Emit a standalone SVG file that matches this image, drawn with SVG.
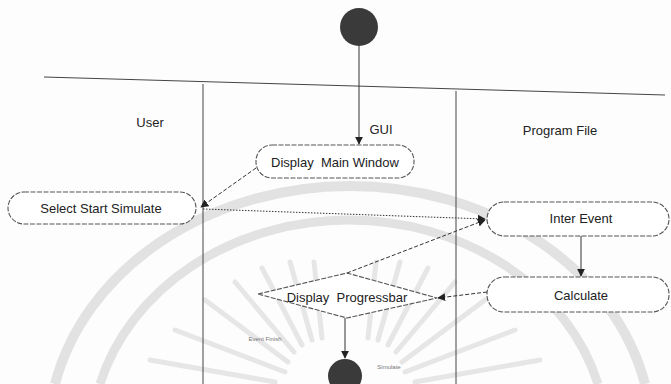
<svg xmlns="http://www.w3.org/2000/svg" width="671" height="384" viewBox="0 0 671 384">
<defs>
<marker id="ah" viewBox="0 0 10 10" refX="9" refY="5" markerWidth="8" markerHeight="8" orient="auto-start-reverse" markerUnits="userSpaceOnUse">
<path d="M0,0 L10,5 L0,10 z" fill="#222"/>
</marker>
<style>
.wm{fill:none;stroke:#e2e2e2;}
.lane{stroke:#444;stroke-width:1;fill:none;}
.box{fill:#fff;stroke:#555;stroke-width:1.1;stroke-dasharray:5 1.5;}
.t{font-family:"Liberation Sans",Arial,sans-serif;font-size:13px;fill:#222;text-anchor:middle;}
.s{font-family:"Liberation Sans",Arial,sans-serif;font-size:6px;fill:#777;text-anchor:middle;}
.c{stroke:#333;stroke-width:1;fill:none;}
.dash{stroke-dasharray:4 2;}
.dot{stroke-dasharray:1.5 1.5;}
</style>
</defs>
<rect width="671" height="384" fill="#fdfdfd"/>
<g id="watermark">
<path class="wm" stroke-width="10" d="M55,384 A302,252 0 0 1 645,384"/>
<path class="wm" stroke-width="9" d="M100,384 A258,222 0 0 1 598,384"/>
<g stroke="#e6e6e6" stroke-width="5" stroke-linecap="round">
<line x1="285" y1="372" x2="175" y2="330"/>
<line x1="288" y1="362" x2="205" y2="300"/>
<line x1="294" y1="352" x2="235" y2="282"/>
<line x1="302" y1="345" x2="262" y2="268"/>
<line x1="312" y1="340" x2="290" y2="262"/>
<line x1="322" y1="338" x2="314" y2="262"/>
<line x1="368" y1="338" x2="376" y2="262"/>
<line x1="378" y1="340" x2="400" y2="262"/>
<line x1="388" y1="345" x2="428" y2="268"/>
<line x1="396" y1="352" x2="455" y2="282"/>
<line x1="402" y1="362" x2="485" y2="300"/>
<line x1="405" y1="372" x2="515" y2="330"/>
<line x1="275" y1="382" x2="150" y2="360"/>
<line x1="415" y1="382" x2="540" y2="360"/>
</g>
</g>
<g id="lanes">
<line class="lane" x1="44" y1="77" x2="665" y2="95" stroke-width="1.3"/>
<line class="lane" x1="203" y1="84" x2="203" y2="384"/>
<line class="lane" x1="456" y1="91" x2="456" y2="384"/>
<text class="t" x="150" y="127" font-size="12">User</text>
<text class="t" x="381" y="134" font-size="12">GUI</text>
<text class="t" x="560" y="135" font-size="12">Program File</text>
</g>
<g id="start">
<circle cx="359" cy="27" r="19" fill="#3a3a3a"/>
</g>
<g id="displayMainWindow">
<rect class="box" x="256" y="145" width="158" height="33" rx="16"/>
<text class="t" x="335" y="167">Display&#160; Main Window</text>
</g>
<g id="selectStartSimulate">
<rect class="box" x="8" y="192" width="188" height="32" rx="16"/>
<text class="t" x="101" y="213">Select Start Simulate</text>
</g>
<g id="interEvent">
<rect class="box" x="487" y="202" width="182" height="34" rx="17"/>
<text class="t" x="581" y="223">Inter Event</text>
</g>
<g id="calculate">
<rect class="box" x="487" y="277" width="182" height="35" rx="17"/>
<text class="t" x="581" y="300">Calculate</text>
</g>
<g id="displayProgressbar">
<polygon class="box" points="258,294 347,273 437,298 347,318"/>
<text class="t" x="347" y="302">Display&#160; Progressbar</text>
</g>
<g id="end">
<circle cx="345" cy="376" r="17" fill="#3a3a3a"/>
</g>
<g id="connectors">
<line class="c" x1="359" y1="46" x2="359" y2="144" marker-end="url(#ah)"/>
<line class="c dash" x1="256" y1="168" x2="201" y2="207" marker-end="url(#ah)"/>
<line class="c dot" x1="203" y1="209" x2="485" y2="219" marker-end="url(#ah)"/>
<line class="c dash" x1="347" y1="273" x2="485" y2="220" marker-end="url(#ah)"/>
<line class="c" x1="581" y1="236" x2="581" y2="276" marker-end="url(#ah)"/>
<line class="c dash" x1="487" y1="292" x2="438" y2="298" marker-end="url(#ah)"/>
<line class="c" x1="345" y1="318" x2="345" y2="358" marker-end="url(#ah)"/>
<text class="s" x="265" y="341">Event Finish</text>
<text class="s" x="389" y="369">Simulate</text>
</g>
</svg>
